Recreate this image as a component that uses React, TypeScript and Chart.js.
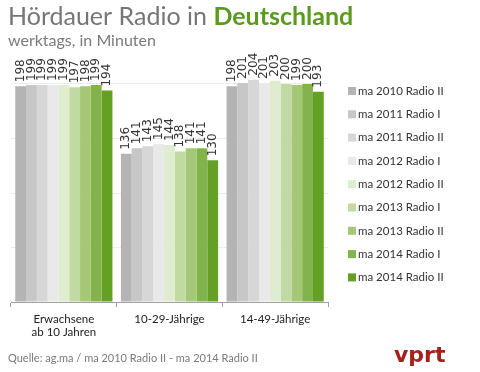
import React, { useEffect, useRef } from "react";
import { Chart, registerables } from "chart.js";

Chart.register(...registerables);

const categories = [["Erwachsene", "ab 10 Jahren"], "10-29-Jährige", "14-49-Jährige"];
const seriesLabels = [
  "ma 2010 Radio II",
  "ma 2011 Radio I",
  "ma 2011 Radio II",
  "ma 2012 Radio I",
  "ma 2012 Radio II",
  "ma 2013 Radio I",
  "ma 2013 Radio II",
  "ma 2014 Radio I",
  "ma 2014 Radio II",
];
const seriesColors = [
  "#b4b4b4",
  "#c7c7c7",
  "#d7d7d7",
  "#e9e9e9",
  "#dfecd0",
  "#c0daa2",
  "#a4c875",
  "#83b44b",
  "#63a024",
];
const erwachsene = [198, 199, 199, 199, 199, 197, 198, 199, 194];
const jung = [136, 141, 143, 145, 144, 138, 141, 141, 130];
const mittel = [198, 201, 204, 201, 203, 200, 199, 200, 193];

const titlePart1 = "Hördauer Radio in ";
const titlePart2 = "Deutschland";
const subtitle = "werktags, in Minuten";
const source = "Quelle: ag.ma / ma 2010 Radio II - ma 2014 Radio II";
const logo = "vprt";

const FONT = "Lato, 'Open Sans', sans-serif";

const decorPlugin = {
  id: "decor",
  afterDatasetsDraw(chart: any) {
    const ctx = chart.ctx;
    ctx.save();
    ctx.font = "12px 'DejaVu Sans', sans-serif";
    ctx.fillStyle = "#333333";
    chart.data.datasets.forEach((ds: any, i: number) => {
      const meta = chart.getDatasetMeta(i);
      meta.data.forEach((el: any, j: number) => {
        ctx.save();
        ctx.translate(el.x, el.y - 4);
        ctx.rotate(-Math.PI / 2);
        ctx.textAlign = "left";
        ctx.textBaseline = "middle";
        ctx.fillText(String(ds.data[j]), 0, 0);
        ctx.restore();
      });
    });
    ctx.restore();
  },
  afterDraw(chart: any) {
    const ctx = chart.ctx;
    ctx.save();
    ctx.textBaseline = "alphabetic";
    ctx.textAlign = "left";
    ctx.font = `25px ${FONT}`;
    ctx.fillStyle = "#767676";
    ctx.fillText(titlePart1, 8, 25);
    const w = ctx.measureText(titlePart1).width;
    ctx.font = `bold 25px ${FONT}`;
    ctx.fillStyle = "#5a9a1e";
    ctx.fillText(titlePart2, 8 + w, 25);
    ctx.font = `16px ${FONT}`;
    ctx.fillStyle = "#7a7a7a";
    ctx.fillText(subtitle, 8, 46);
    ctx.font = `11px ${FONT}`;
    ctx.fillStyle = "#7a7a7a";
    ctx.fillText(source, 8, 362);
    ctx.font = `bold 22px 'DejaVu Sans', sans-serif`;
    ctx.fillStyle = "#a3231c";
    ctx.fillText(logo, 394, 362);
    ctx.font = `11.5px ${FONT}`;
    ctx.textBaseline = "middle";
    chart.data.datasets.forEach((ds: any, i: number) => {
      const y = 91 + i * 23.3;
      ctx.fillStyle = ds.backgroundColor;
      ctx.fillRect(348, y - 4, 8, 8);
      ctx.fillStyle = "#333333";
      ctx.fillText(ds.label, 358, y);
    });
    ctx.restore();
  },
};

export default function App() {
  const ref = useRef<HTMLCanvasElement | null>(null);
  useEffect(() => {
    if (!ref.current) return;
    const groups = [erwachsene, jung, mittel];
    const chart = new Chart(ref.current, {
      type: "bar",
      data: {
        labels: categories as any,
        datasets: seriesLabels.map((label, i) => ({
          label,
          data: groups.map((g) => g[i]),
          backgroundColor: seriesColors[i],
          borderWidth: 0,
          categoryPercentage: 0.92,
          barPercentage: 1,
        })),
      },
      options: {
        animation: false,
        responsive: false,
        maintainAspectRatio: false,
        layout: { padding: { left: 11, right: 152, top: 29.5, bottom: 0 } },
        plugins: {
          legend: { display: false },
          tooltip: { enabled: false },
          title: { display: false },
        },
        scales: {
          x: {
            grid: {
              offset: true,
              drawOnChartArea: false,
              drawTicks: true,
              tickLength: 5,
              color: "#a0a0a0",
            },
            border: { display: true, color: "#a0a0a0" },
            ticks: {
              color: "#222222",
              font: { family: FONT, size: 11.5 },
              padding: 5,
              maxRotation: 0,
              autoSkip: false,
            },
            afterFit: (scale: any) => {
              scale.height = 70;
            },
          },
          y: {
            min: 0,
            max: 250,
            grid: {
              drawTicks: false,
              color: (c: any) => (c.tick && c.tick.value === 250 ? "rgba(0,0,0,0)" : "#ececec"),
            },
            border: { display: false },
            ticks: { display: false, stepSize: 50 },
            afterFit: (scale: any) => {
              scale.width = 0;
            },
          },
        },
      },
      plugins: [decorPlugin],
    });
    return () => chart.destroy();
  }, []);
  return (
    <div style={{ position: "absolute", left: 0, top: 0, width: 480, height: 372, background: "#fff" }}>
      <canvas ref={ref} width={480} height={372} style={{ width: 480, height: 372 }} />
    </div>
  );
}
